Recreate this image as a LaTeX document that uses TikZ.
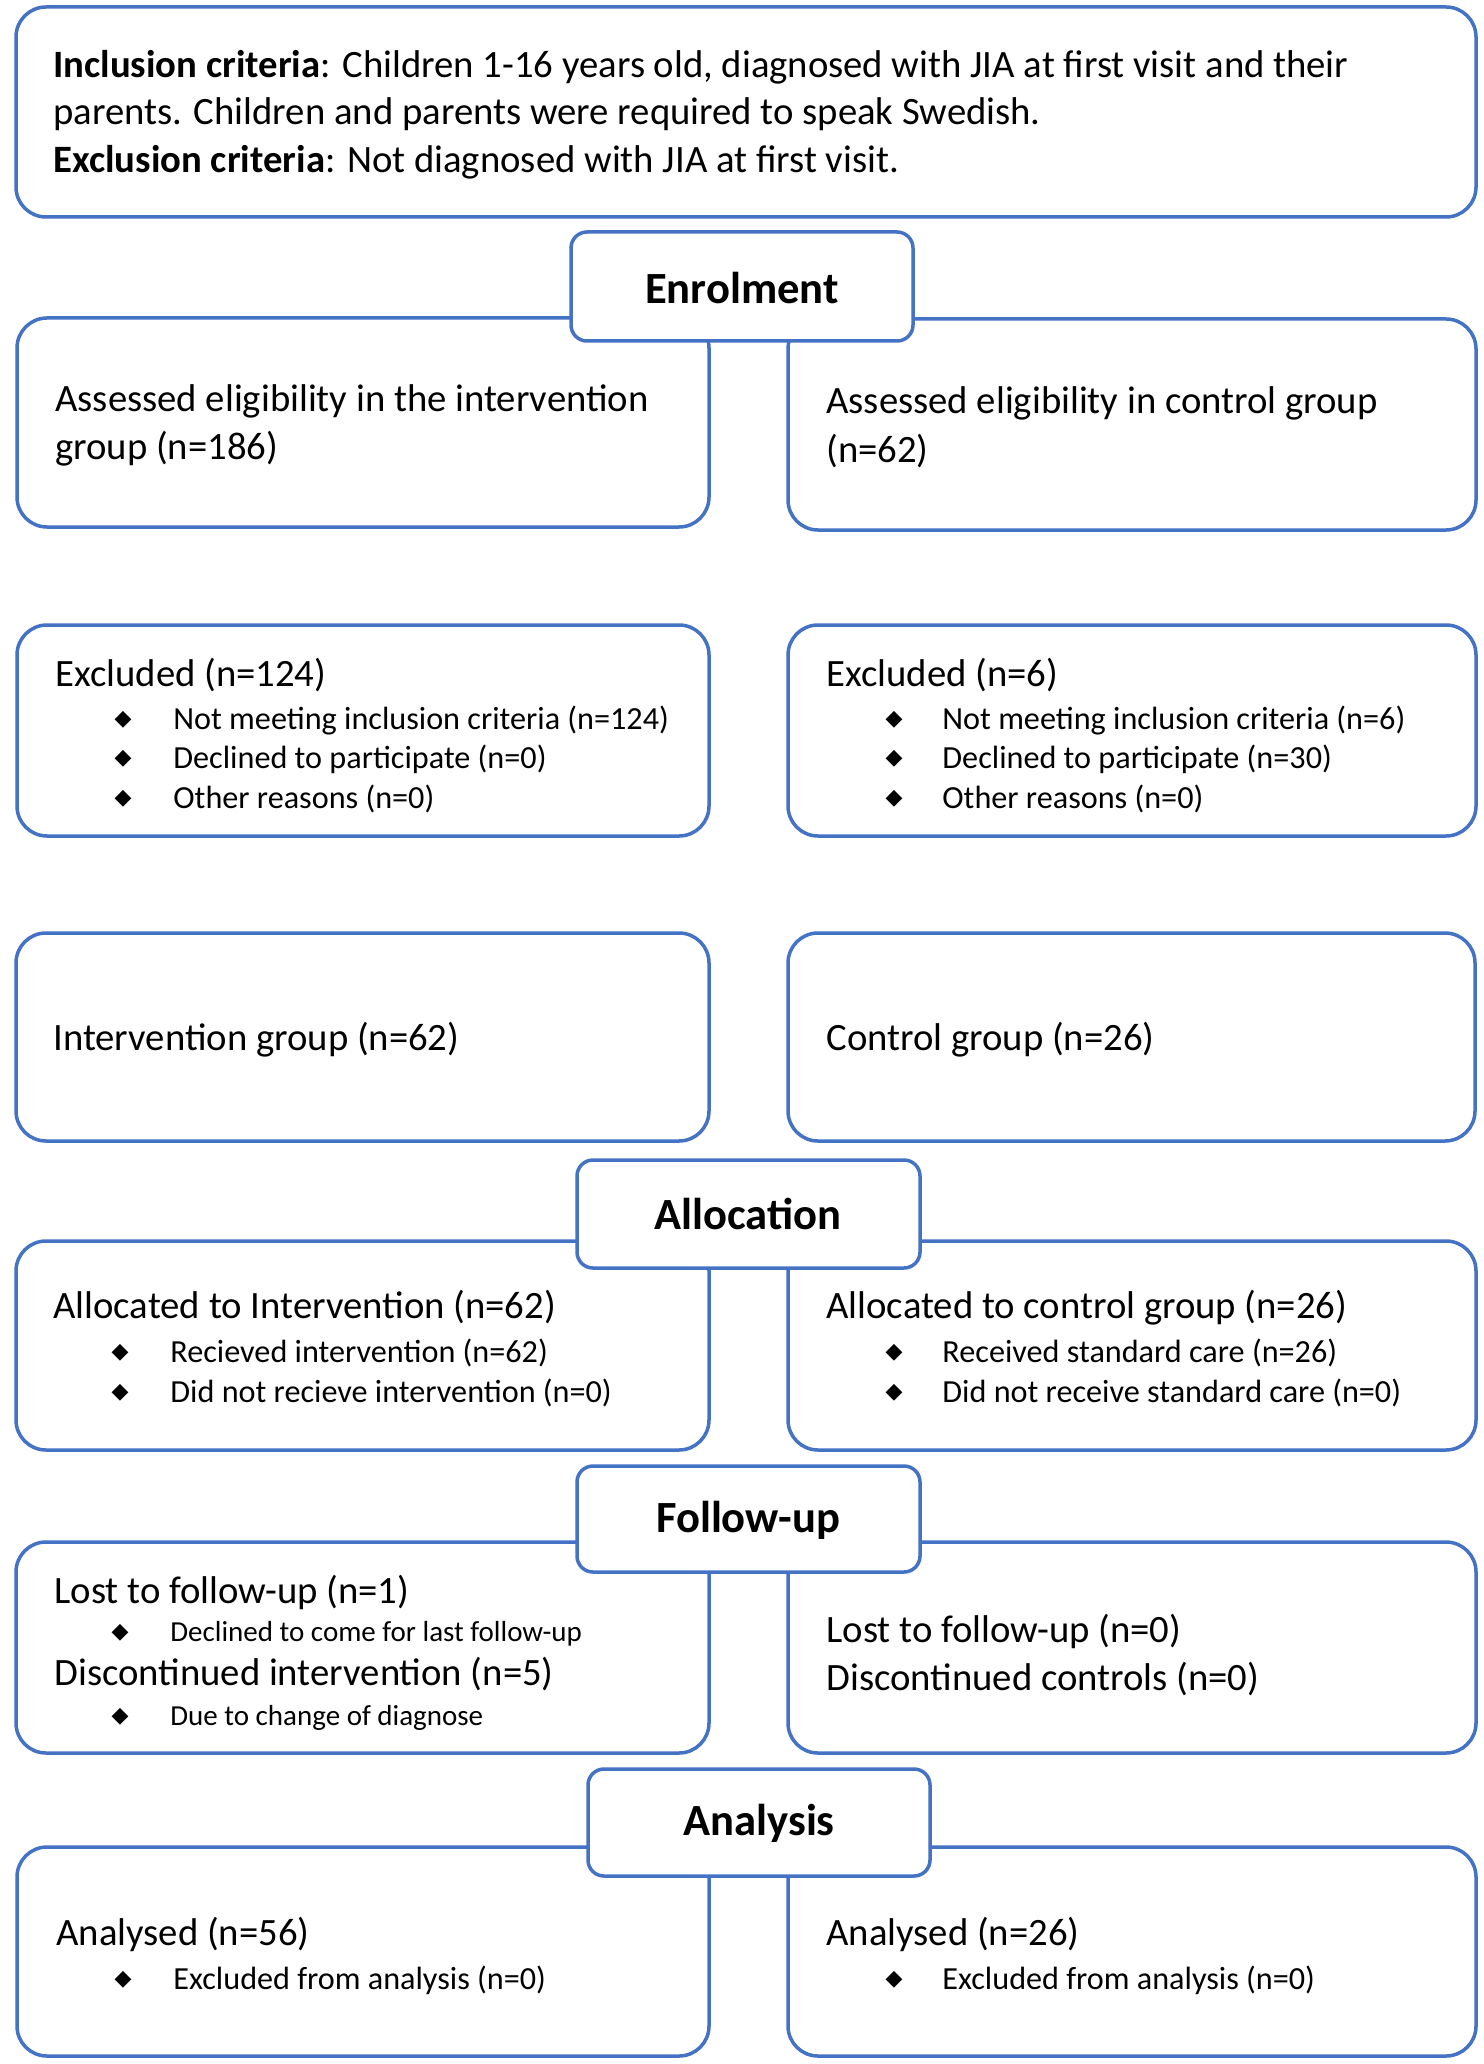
\documentclass[tikz,border=0pt]{standalone}
\usepackage{fontspec}
\setmainfont{Carlito}
\newfontfamily\symfont{DejaVu Sans}
\usetikzlibrary{fit}
\definecolor{boxblue}{RGB}{68,114,196}
\newcommand\mainsz{\fontsize{19.35pt}{23.8pt}\selectfont}
\newcommand\bulsz{\fontsize{16.1pt}{19.7pt}\selectfont}
\newcommand\smsz{\fontsize{14.5pt}{17pt}\selectfont}
\newcommand\stagesz{\fontsize{22.3pt}{26pt}\selectfont\bfseries}
\tikzset{
  grp/.style={draw=boxblue, line width=1.75pt, rounded corners=15pt, inner sep=0pt, outer sep=0pt},
  stagebox/.style={draw=boxblue, fill=white, line width=1.75pt, rounded corners=8pt, inner sep=0pt, outer sep=0pt},
  txt/.style={inner sep=0pt, anchor=base west, font=\mainsz},
  btxt/.style={inner sep=0pt, anchor=base west, font=\bulsz},
  stxt/.style={inner sep=0pt, anchor=base west, font=\smsz},
  stagetxt/.style={inner sep=0pt, anchor=base, font=\stagesz},
  bul/.style={inner sep=0pt, anchor=center, font=\symfont\fontsize{11pt}{11pt}\selectfont}
}
\begin{document}
\begin{tikzpicture}[x=0.5pt,y=-0.5pt]
\useasboundingbox[fill=white] (0,0) rectangle (1483,2064);
% group boxes
\node[grp, fit={(16,7) (1476,217)}] (top) {};
\node[grp, fit={(17,318) (709,527)}] (asL) {};
\node[grp, fit={(788,319) (1476,530)}] (asR) {};
\node[grp, fit={(17,625) (709,836)}] (exL) {};
\node[grp, fit={(788,625) (1476,836)}] (exR) {};
\node[grp, fit={(16,933) (709,1141)}] (igL) {};
\node[grp, fit={(788,933) (1475,1141)}] (igR) {};
\node[grp, fit={(16,1241) (709,1450)}] (alL) {};
\node[grp, fit={(788,1241) (1476,1450)}] (alR) {};
\node[grp, fit={(16,1542) (709,1753)}] (fuL) {};
\node[grp, fit={(788,1542) (1476,1753)}] (fuR) {};
\node[grp, fit={(17,1847) (709,2056)}] (anL) {};
\node[grp, fit={(788,1847) (1476,2056)}] (anR) {};
% stage boxes
\node[stagebox, fit={(571,232) (913,341)}] (enrol) {};
\node[stagebox, fit={(577,1160) (920,1268)}] (alloc) {};
\node[stagebox, fit={(577,1466) (920,1572)}] (follow) {};
\node[stagebox, fit={(588,1769) (930,1876)}] (analysis) {};
\node[stagetxt] (enrolT) at (742,303.5) {Enrolment};
\node[stagetxt] (allocT) at (748,1229.5) {Allocation};
\node[stagetxt] (followT) at (748,1532.5) {Follow-up};
\node[stagetxt] (analysisT) at (759,1835.5) {Analysis};
% top text
\node[txt] (inc1) at (53,77.6) {\textbf{Inclusion criteria}: Children 1-16 years old, diagnosed with JIA at first visit and their};
\node[txt] (inc2) at (53,124.6) {parents. Children and parents were required to speak Swedish.};
\node[txt] (exc1) at (53,172.6) {\textbf{Exclusion criteria}: Not diagnosed with JIA at first visit.};
% assessed
\node[txt] (asL1) at (55,411.6) {Assessed eligibility in the intervention};
\node[txt] (asL2) at (55,459.6) {group (n=186)};
\node[txt] (asR1) at (826,414) {Assessed eligibility in control group};
\node[txt] (asR2) at (826,463) {(n=62)};
% excluded
\node[txt] (exL1) at (55,686.6) {Excluded (n=124)};
\node[bul] (exLb1) at (123,720) {◆};
\node[btxt] (exL2) at (173,729.7) {Not meeting inclusion criteria (n=124)};
\node[bul] (exLb2) at (123,759) {◆};
\node[btxt] (exL3) at (173,768.7) {Declined to participate (n=0)};
\node[bul] (exLb3) at (123,799) {◆};
\node[btxt] (exL4) at (173,808.7) {Other reasons (n=0)};
\node[txt] (exR1) at (826,686.6) {Excluded (n=6)};
\node[bul] (exRb1) at (894,720) {◆};
\node[btxt] (exR2) at (942,729.7) {Not meeting inclusion criteria (n=6)};
\node[bul] (exRb2) at (894,759) {◆};
\node[btxt] (exR3) at (942,768.7) {Declined to participate (n=30)};
\node[bul] (exRb3) at (894,799) {◆};
\node[btxt] (exR4) at (942,808.7) {Other reasons (n=0)};
% groups
\node[txt] (igL1) at (53,1050) {Intervention group (n=62)};
\node[txt] (igR1) at (826,1050) {Control group (n=26)};
% allocated
\node[txt] (alL1) at (53,1318.6) {Allocated to Intervention (n=62)};
\node[bul] (alLb1) at (120,1353) {◆};
\node[btxt] (alL2) at (170,1362.7) {Recieved intervention (n=62)};
\node[bul] (alLb2) at (120,1393) {◆};
\node[btxt] (alL3) at (170,1402.7) {Did not recieve intervention (n=0)};
\node[txt] (alR1) at (826,1318.6) {Allocated to control group (n=26)};
\node[bul] (alRb1) at (894,1353) {◆};
\node[btxt] (alR2) at (942,1362.7) {Received standard care (n=26)};
\node[bul] (alRb2) at (894,1393) {◆};
\node[btxt] (alR3) at (942,1402.7) {Did not receive standard care (n=0)};
% follow-up
\node[txt] (fuL1) at (54,1603.6) {Lost to follow-up (n=1)};
\node[bul] (fuLb1) at (120,1633) {◆};
\node[stxt] (fuL2) at (170,1641.7) {Declined to come for last follow-up};
\node[txt] (fuL3) at (54,1685.6) {Discontinued intervention (n=5)};
\node[bul] (fuLb2) at (120,1717) {◆};
\node[stxt] (fuL4) at (170,1725.7) {Due to change of diagnose};
\node[txt] (fuR1) at (826,1642.6) {Lost to follow-up (n=0)};
\node[txt] (fuR2) at (826,1690.6) {Discontinued controls (n=0)};
% analysed
\node[txt] (anL1) at (56,1945.6) {Analysed (n=56)};
\node[bul] (anLb1) at (123,1980) {◆};
\node[btxt] (anL2) at (173,1989.7) {Excluded from analysis (n=0)};
\node[txt] (anR1) at (826,1945.6) {Analysed (n=26)};
\node[bul] (anRb1) at (894,1980) {◆};
\node[btxt] (anR2) at (942,1989.7) {Excluded from analysis (n=0)};
\end{tikzpicture}
\end{document}
